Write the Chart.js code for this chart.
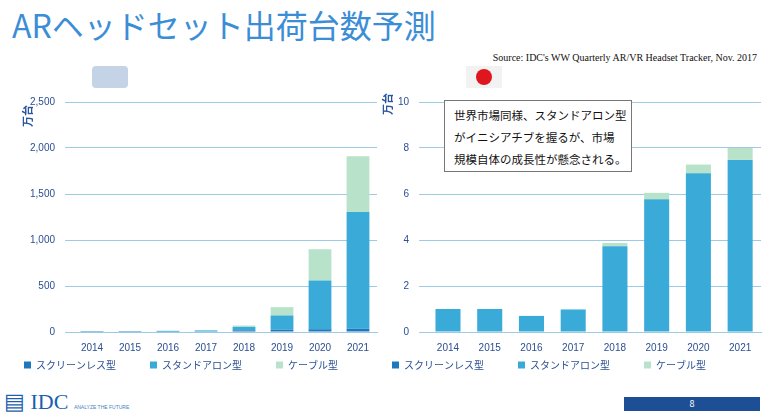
<!DOCTYPE html>
<html>
<head>
<meta charset="utf-8">
<script src="https://cdn.jsdelivr.net/npm/chart.js@4"></script>
<style>
body { margin: 0; width: 769px; height: 417px; background: #fff; position: relative; overflow: hidden; font-family: "Noto Sans CJK JP", sans-serif; }
.abs { position: absolute; }
#title { left: 12px; top: 1px; font-size: 32px; color: #3b8ed6; }
#source { right: 12px; top: 52px; font-family: "Liberation Serif", serif; font-size: 10px; color: #111; }
.unit { font-size: 11px; color: #2a56a0; font-weight: bold; transform: rotate(-90deg); }
#note { left: 444px; top: 100px; width: 188px; height: 72px; border: 1px solid #777; background: #fff; font-size: 11.5px; line-height: 22px; padding: 3px 0 0 9px; box-sizing: border-box; color: #111; white-space: nowrap; }
#footbar { left: 624px; top: 397px; width: 136px; height: 14px; background: #1c4f96; color: #fff; font-size: 9px; text-align: center; line-height: 14px; }
#logo { left: 4px; top: 389px; font-family: "Liberation Serif", serif; font-size: 22px; color: #1c5fae; }
</style>
</head>
<body>
<div id="title" class="abs">ARヘッドセット出荷台数予測</div>
<div id="source" class="abs">Source:  IDC's WW Quarterly AR/VR Headset Tracker, Nov. 2017</div>
<div class="abs" style="left:92px;top:66px;width:36px;height:22px;background:#c5d3e6;border-radius:4px;"></div>
<div class="abs" style="left:466px;top:66px;width:36px;height:22px;background:#f2f2f2;"></div>
<div class="abs" style="left:476px;top:69px;width:16px;height:16px;background:#e0161e;border-radius:50%;"></div>
<div style="position:absolute;left:0;top:86px;width:385px;height:294px;"><canvas id="worldChart"></canvas></div>
<div style="position:absolute;left:380px;top:86px;width:389px;height:294px;"><canvas id="japanChart"></canvas></div>
<div class="abs unit" style="left:16px;top:108px;">万台</div>
<div class="abs unit" style="left:376px;top:96px;">万台</div>
<div id="note" class="abs">世界市場同様、スタンドアロン型<br>がイニシアチブを握るが、市場<br>規模自体の成長性が懸念される。</div>
<div id="logo" class="abs">▤ IDC <span style="font-family:'Liberation Sans';font-size:5px;color:#4a7fc0;">ANALYZE THE FUTURE</span></div>
<div id="footbar" class="abs">8</div>
<script>
const years = ["2014", "2015", "2016", "2017", "2018", "2019", "2020", "2021"];

// 世界 (万台)
const worldScreenless = [2, 2, 4, 5, 18, 25, 30, 35];
const worldStandalone = [3, 3, 8, 12, 37, 155, 530, 1270];
const worldTethered = [0, 0, 2, 3, 15, 90, 340, 605];

// 日本 (万台)
const japanScreenless = [0, 0, 0, 0, 0, 0, 0, 0];
const japanStandalone = [1.0, 1.0, 0.7, 0.98, 3.73, 5.77, 6.9, 7.48];
const japanTethered = [0, 0, 0, 0, 0.14, 0.28, 0.38, 0.52];

const labelNames = ["スクリーンレス型", "スタンドアロン型", "ケーブル型"];
const colors = ["#1e78bd", "#3aaad9", "#b9e2cb"];
const axisColor = "#2a4f93";

function makeChart(id, series, max, step, padLeft) {
    return new Chart(document.getElementById(id), {
        type: 'bar',
        data: {
            labels: years,
            datasets: series.map((d, i) => ({
                label: labelNames[i],
                data: d,
                backgroundColor: colors[i],
                barPercentage: 0.6,
                categoryPercentage: 1
            }))
        },
        options: {
            responsive: true,
            maintainAspectRatio: false,
            animation: false,
            layout: { padding: { left: padLeft, right: 8, top: 4, bottom: 0 } },
            plugins: {
                tooltip: { enabled: false },
                legend: {
                    position: 'bottom',
                    align: 'start',
                    labels: {
                        boxWidth: 7, boxHeight: 7, color: axisColor, padding: 4,
                        font: { size: 10, family: "Noto Sans CJK JP" },
                        generateLabels: chart => Chart.defaults.plugins.legend.labels.generateLabels(chart)
                            .map((item, i) => ({ ...item, text: i < 2 ? item.text + "\u3000\u3000\u3000" : item.text }))
                    }
                }
            },
            scales: {
                x: {
                    stacked: true,
                    grid: { display: false },
                    border: { color: "#9ccbe6" },
                    ticks: { color: axisColor, font: { size: 10 }, padding: 2 }
                },
                y: {
                    stacked: true,
                    min: 0,
                    max: max,
                    ticks: { stepSize: step, color: axisColor, font: { size: 10 }, padding: 10 },
                    grid: { color: "#9ccbe6" },
                    border: { display: false }
                }
            }
        }
    });
}

makeChart('worldChart', [worldScreenless, worldStandalone, worldTethered], 2500, 500, 20);
makeChart('japanChart', [japanScreenless, japanStandalone, japanTethered], 10, 2, 8);
</script>
</body>
</html>
